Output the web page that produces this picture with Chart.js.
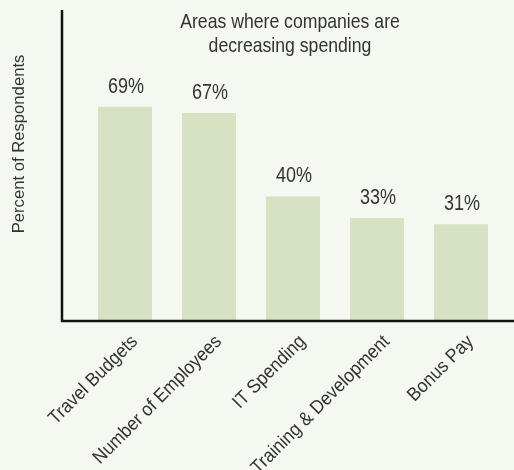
<!DOCTYPE html>
<html>
<head>
<meta charset="utf-8">
<title>Areas where companies are decreasing spending</title>
<script src="https://cdn.jsdelivr.net/npm/chart.js@4.4.1/dist/chart.umd.min.js"></script>
<style>
  html, body { margin: 0; padding: 0; background: #f5f8f1; }
  canvas { display: block; }
</style>
</head>
<body>
<canvas id="chart" width="514" height="470"></canvas>
<script>
// Survey results: share of respondents cutting spending in each area
const categories = ['Travel Budgets', 'Number of Employees', 'IT Spending', 'Training & Development', 'Bonus Pay'];
const percentValues = [69, 67, 40, 33, 31];
const titleLines = ['Areas where companies are', 'decreasing spending'];
const yAxisTitle = 'Percent of Respondents';

const FONT = "'Liberation Sans', Arial, sans-serif";
const TEXT_COLOR = '#333333';
const BG_COLOR = '#f5f8f1';
const BAR_COLOR = '#d6e2c1';

// Draws text squeezed horizontally to get a condensed face
function condensedText(ctx, text, x, y, size, squeeze, align, baseline, angle) {
  ctx.save();
  ctx.translate(x, y);
  if (angle) ctx.rotate(angle);
  ctx.scale(squeeze, 1);
  ctx.font = size + 'px ' + FONT;
  ctx.textAlign = align;
  ctx.textBaseline = baseline;
  ctx.fillText(text, 0, 0);
  ctx.restore();
}

// Background, axis lines, title, axis labels and value labels
const decorations = {
  id: 'decorations',
  beforeDraw(chart) {
    const ctx = chart.ctx;
    ctx.save();
    ctx.fillStyle = BG_COLOR;
    ctx.fillRect(0, 0, chart.width, chart.height);
    ctx.restore();
  },
  afterDatasetsDraw(chart) {
    const ctx = chart.ctx;
    const area = chart.chartArea;
    const axisX = area.left - 21;
    const axisY = area.bottom + 1;
    ctx.save();

    // axis lines
    ctx.strokeStyle = '#111111';
    ctx.lineWidth = 2.5;
    ctx.beginPath();
    ctx.moveTo(axisX, 10);
    ctx.lineTo(axisX, axisY);
    ctx.lineTo(chart.width, axisY);
    ctx.stroke();

    ctx.fillStyle = TEXT_COLOR;

    // title
    const titleX = (axisX + chart.width) / 2 + 2;
    titleLines.forEach((line, i) =>
      condensedText(ctx, line, titleX, 28 + i * 23.5, 21, 0.84, 'center', 'alphabetic', 0));

    // y-axis title
    condensedText(ctx, yAxisTitle, 24, 144, 17, 0.98, 'center', 'alphabetic', -Math.PI / 2);

    // category labels, slanted at 45 degrees under each bar
    const xScale = chart.scales.x;
    categories.forEach((label, i) => {
      const tx = xScale.getPixelForTick(i);
      condensedText(ctx, label, tx + 13.4, axisY + 21.5, 19, 0.92, 'right', 'alphabetic', -Math.PI / 4);
    });

    // value labels above bars
    const meta = chart.getDatasetMeta(0);
    meta.data.forEach((bar, i) => {
      condensedText(ctx, percentValues[i] + '%', bar.x + 1, bar.y - 14, 22.5, 0.8, 'center', 'alphabetic', 0);
    });
    ctx.restore();
  }
};

new Chart(document.getElementById('chart'), {
  type: 'bar',
  data: {
    labels: categories,
    datasets: [{
      data: percentValues,
      backgroundColor: BAR_COLOR,
      borderWidth: 0,
      categoryPercentage: 1,
      barPercentage: 0.643
    }]
  },
  options: {
    responsive: false,
    devicePixelRatio: 1,
    animation: false,
    layout: { padding: { left: 83, right: 11, top: 11, bottom: 0 } },
    plugins: {
      legend: { display: false },
      title: { display: false },
      tooltip: { enabled: false }
    },
    scales: {
      x: {
        grid: { display: false, drawTicks: false },
        border: { display: false },
        ticks: { display: false },
        afterFit(scale) { scale.height = 150; }
      },
      y: {
        display: false,
        min: 0,
        max: 100
      }
    }
  },
  plugins: [decorations]
});
</script>
</body>
</html>
